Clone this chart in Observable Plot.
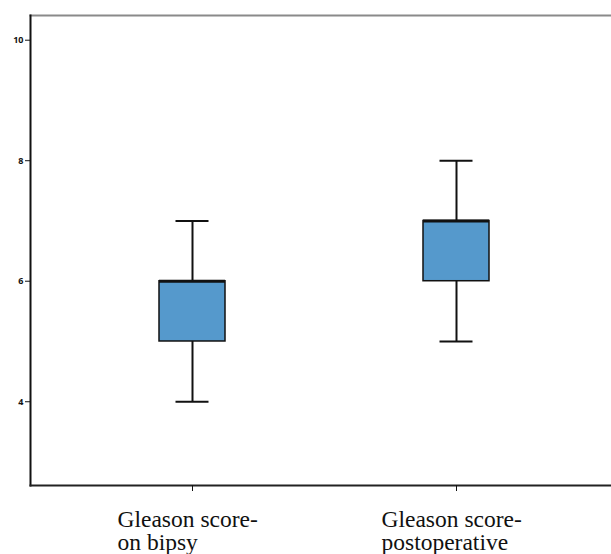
<!DOCTYPE html>
<html>
<head>
<meta charset="utf-8">
<script src="https://cdn.jsdelivr.net/npm/d3@7"></script>
<script src="https://cdn.jsdelivr.net/npm/@observablehq/plot@0.6"></script>
<style>
  html, body { margin: 0; padding: 0; background: #fff; }
  svg { display: block; }
  svg g[aria-label="text"] text {
    font-family: "Liberation Serif", "Times New Roman", Times, serif !important;
  }
</style>
</head>
<body>
<div id="chart"></div>
<script>
// Gleason score distributions: biopsy vs. postoperative
const categories = ["Gleason score-\non bipsy", "Gleason score-\npostoperative"];
const minimum = [4, 5];
const lowerQuartile = [5, 6];
const median = [6, 7];
const upperQuartile = [6, 7];
const maximum = [7, 8];
const yTicks = [4, 6, 8, 10];

const rows = categories.map((c, i) => ({
  category: c,
  min: minimum[i],
  q1: lowerQuartile[i],
  median: median[i],
  q3: upperQuartile[i],
  max: maximum[i]
}));

const chart = Plot.plot({
  width: 611,
  height: 554,
  marginLeft: 30,
  marginRight: 0,
  marginTop: 15,
  marginBottom: 69,
  style: { background: "#fff" },
  x: { domain: categories, range: [30, 617], paddingInner: 0.75, paddingOuter: 0.483 },
  y: { domain: [2.61, 10.41] },
  marks: [
    Plot.frame({ anchor: "top", stroke: "#8a8a8a", strokeWidth: 2 }),
    // whiskers
    Plot.ruleX(rows, { x: "category", y1: "min", y2: "max", stroke: "#111", strokeWidth: 2 }),
    Plot.tickY(rows, { x: "category", y: "min", stroke: "#111", strokeWidth: 2, insetLeft: 16.5, insetRight: 16.5 }),
    Plot.tickY(rows, { x: "category", y: "max", stroke: "#111", strokeWidth: 2, insetLeft: 16.5, insetRight: 16.5 }),
    // interquartile boxes
    Plot.barY(rows, { x: "category", y1: "q1", y2: "q3", fill: "#5599cc", stroke: "#111", strokeWidth: 1.5 }),
    // medians
    Plot.tickY(rows, { x: "category", y: "median", stroke: "#111", strokeWidth: 3 }),
    Plot.frame({ anchor: "left", stroke: "#111", strokeWidth: 2 }),
    Plot.frame({ anchor: "bottom", stroke: "#222", strokeWidth: 2 }),
    Plot.axisY({
      ticks: yTicks,
      tickSize: 5,
      tickPadding: 2,
      fontSize: 9,
      fontWeight: "bold",
      stroke: "#111",
      fill: "#111",
      label: null
    }),
    Plot.axisX({
      tickSize: 6,
      tickFormat: null,
      stroke: "#111",
      label: null
    }),
    // category labels, left-aligned two-line blocks below each tick
    Plot.text(rows, {
      x: "category",
      text: "category",
      frameAnchor: "bottom",
      lineAnchor: "top",
      textAnchor: "start",
      dx: -75,
      dy: 24,
      fontSize: 23.5,
      lineHeight: 1.02,
      fontFamily: "Liberation Serif",
      fill: "#111"
    })
  ]
});

document.getElementById("chart").append(chart);
</script>
</body>
</html>
